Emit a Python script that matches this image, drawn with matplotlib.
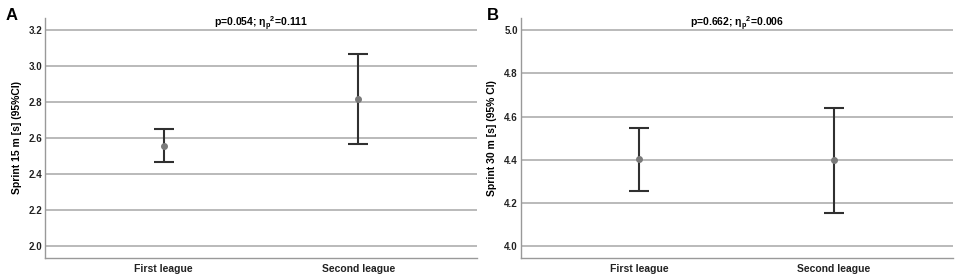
import matplotlib
matplotlib.use("Agg")
import matplotlib.pyplot as plt

plt.rcParams['font.family'] = ['Liberation Sans', 'DejaVu Sans']
plt.rcParams['font.weight'] = 'bold'
plt.rcParams['mathtext.fontset'] = 'custom'
plt.rcParams['mathtext.bf'] = 'Liberation Sans:bold'
plt.rcParams['mathtext.rm'] = 'Liberation Sans:bold'

groups = ["First league", "Second league"]

# panel A - sprint 15 m
mean_a = [2.557, 2.815]
low_a = [2.465, 2.565]
high_a = [2.652, 3.065]
ticks_a = [2.0, 2.2, 2.4, 2.6, 2.8, 3.0, 3.2]

# panel B - sprint 30 m
mean_b = [4.405, 4.399]
low_b = [4.258, 4.154]
high_b = [4.548, 4.640]
ticks_b = [4.0, 4.2, 4.4, 4.6, 4.8, 5.0]

fig = plt.figure(figsize=(9.57, 2.76), dpi=100)


def draw_panel(rect, means, lows, highs, ticks, ylim, ylabel, title, letter, letter_x):
    ax = fig.add_axes(rect)
    x = list(range(len(groups)))
    err = [[m - l for m, l in zip(means, lows)], [h - m for m, h in zip(means, highs)]]
    ax.errorbar(x, means, yerr=err, fmt='o', color='#7a7a7a', ms=4,
                ecolor='#303030', elinewidth=1.5, capsize=7.5, capthick=1.5, zorder=3)
    ax.set_xlim(-0.611, 1.611)
    ax.set_ylim(*ylim)
    ax.set_yticks(ticks)
    ax.set_yticklabels(["%.1f" % t for t in ticks])
    ax.set_xticks(x)
    ax.set_xticklabels(groups)
    ax.grid(axis='y', color='#b4b4b4', linewidth=1.3)
    ax.set_axisbelow(True)
    for s in ['top', 'right']:
        ax.spines[s].set_visible(False)
    for s in ['left', 'bottom']:
        ax.spines[s].set_color('#999999')
        ax.spines[s].set_linewidth(1.0)
    ax.tick_params(axis='y', length=0, pad=2, labelsize=7, labelcolor='#222222')
    ax.tick_params(axis='x', length=0, pad=4, labelsize=7.5, labelcolor='#222222')
    ax.set_ylabel(ylabel, fontsize=7.5, fontweight='bold', labelpad=5)
    ax.text(0.5, 0.975, title, transform=ax.transAxes, ha='center', va='center',
            fontsize=7.5, fontweight='bold')
    fig.text(letter_x, 0.945, letter, fontsize=12, fontweight='bold', ha='left', va='center')
    return ax


draw_panel([0.047, 0.0652, 0.4514, 0.8696], mean_a, low_a, high_a, ticks_a,
           (1.933, 3.267), "Sprint 15 m [s] (95%CI)",
           r"p=0.054; η$_\mathbf{p}$$^\mathbf{2}$=0.111", "A", 0.006)
draw_panel([0.544, 0.0652, 0.4517, 0.8696], mean_b, low_b, high_b, ticks_b,
           (3.946, 5.056), "Sprint 30 m [s] (95% CI)",
           r"p=0.662; η$_\mathbf{p}$$^\mathbf{2}$=0.006", "B", 0.509)

fig.savefig("out.png", dpi=100)
